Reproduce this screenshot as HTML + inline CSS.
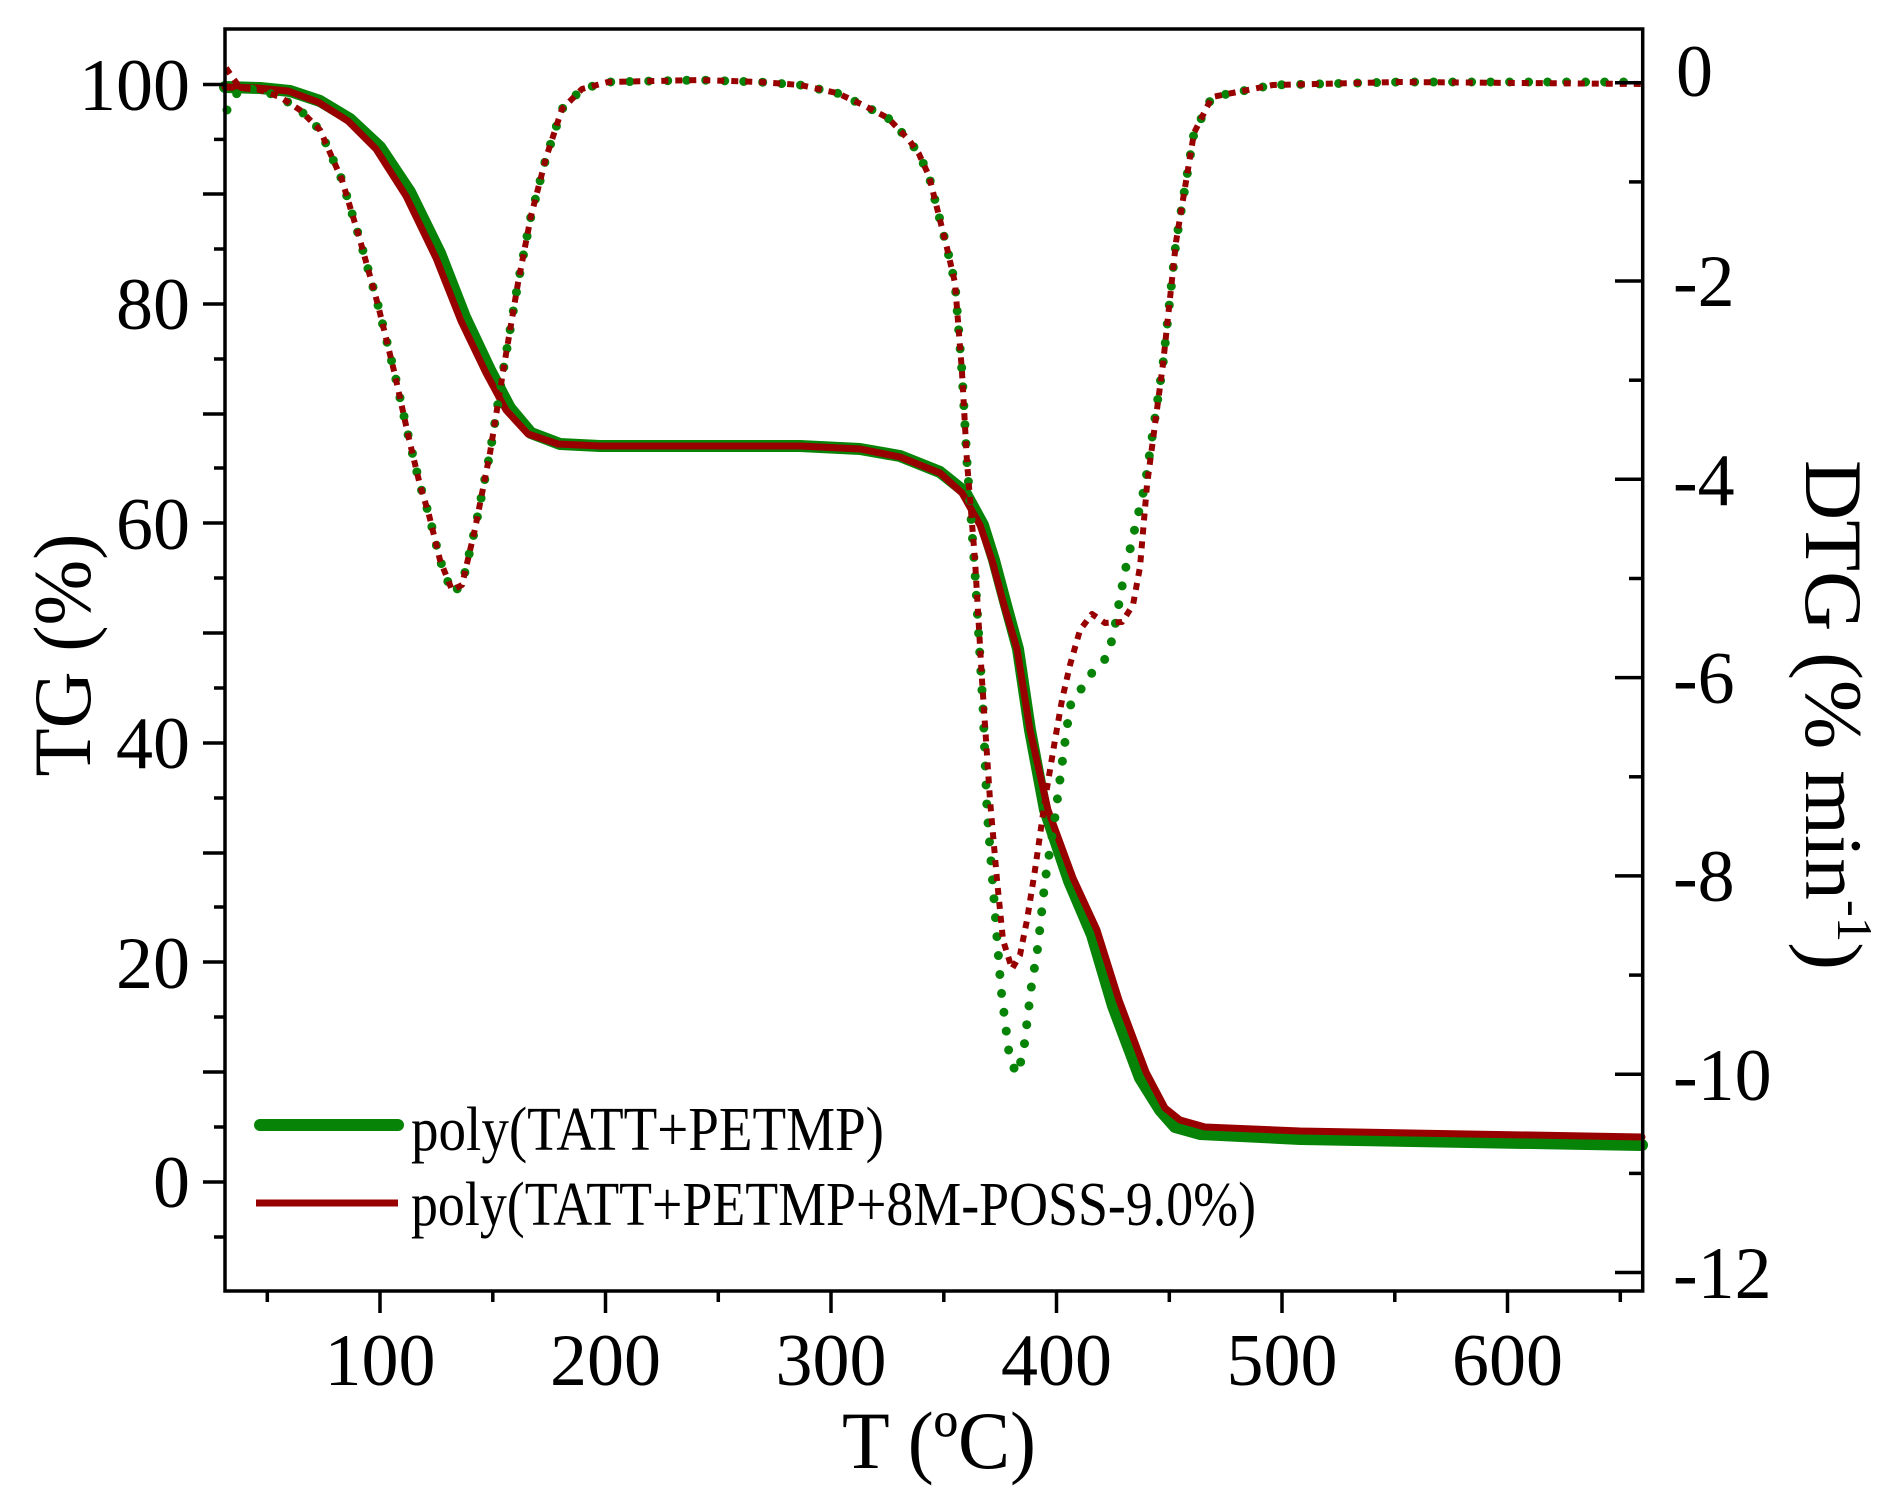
<!DOCTYPE html>
<html><head><meta charset="utf-8"><style>
html,body{margin:0;padding:0;background:#fff;}
svg{display:block;font-family:"Liberation Serif",serif;}
</style></head><body>
<svg width="1890" height="1510" viewBox="0 0 1890 1510" xmlns="http://www.w3.org/2000/svg">
<rect width="1890" height="1510" fill="#fff"/>
<!-- TG curves -->
<polyline fill="none" stroke="#078307" stroke-width="12" stroke-linejoin="round" stroke-linecap="round"
 points="225,87 260,88 290,91 320,101 350,119 380,147 410,192 440,253 465,317 490,370 510,408 531,433 560,444 600,446 800,446 860,449 900,456 940,472 965,492 983,525 994,560 1006,605 1018,649 1030,730 1045,810 1069,881 1092,935 1113,1006 1140,1078 1160,1110 1175,1127 1200,1134 1300,1139 1642,1145"/>
<polyline fill="none" stroke="#980000" stroke-width="7" stroke-linejoin="round" stroke-linecap="round"
 points="225,87 258,88 288,91 318,102 348,121 376,149 406,196 436,258 461,321 486,373 506,410 528,434 558,444 600,446 800,446 860,449 900,457 940,473 962,493 980,525 992,560 1004,605 1017,649 1030,730 1048,810 1073,878 1097,930 1119,1000 1146,1072 1165,1108 1180,1120 1205,1127 1300,1131 1642,1137"/>
<!-- DTG green dotted -->
<polyline fill="none" stroke="#078307" stroke-width="9" stroke-linecap="round" stroke-dasharray="0 19" stroke-linejoin="round"
 points="227,110 240,88 260,90 280,97 300,110 320,130 342,180 360,240 378,305 395,375 409,439 420,485 429,515 440,560 452,593 462,585 475,529 490,453 503,372 518,283 531,216 546,158 562,109 582,89 608,82 700,80 760,82 800,85 837,93 863,105 888,118 909,140 919,154 929,176 939,216 947,248 955,283 962,372 967,462 975,573 983,707 987,810 994,899 1001,989 1009,1053 1016,1074 1023,1056 1031,989 1038,946 1045,881 1055,817 1064,749 1070,706 1091,674 1106,658 1113,637 1121,592 1125,571 1145,485 1163,364 1176,242 1194,133 1212,97 1273,85 1400,82 1642,82"/>
<!-- DTG red dashed -->
<polyline fill="none" stroke="#980000" stroke-width="6" stroke-dasharray="7 7" stroke-linejoin="round"
 points="226,68 240,88 260,90 280,97 300,110 320,130 342,180 360,240 378,305 395,375 409,439 420,485 429,515 440,560 452,590 462,585 475,529 490,453 503,372 518,283 531,216 546,158 562,109 582,89 608,82 700,80 760,82 800,85 837,93 863,105 888,118 909,140 919,154 929,176 939,216 947,248 955,283 962,372 967,462 975,560 982,680 990,800 997,880 1003,940 1012,969 1020,955 1027,920 1035,870 1045,800 1055,740 1062,700 1070,665 1080,630 1092,614 1105,623 1122,622 1133,605 1140,567 1147,485 1163,364 1176,242 1194,133 1212,97 1273,85 1400,82 1642,84"/>
<!-- axes frame -->
<rect x="225" y="29" width="1417.7" height="1262" fill="none" stroke="#000" stroke-width="3.5"/>
<g stroke="#000" stroke-width="3.5">
<line x1="203" y1="84.5" x2="225" y2="84.5"/><line x1="214" y1="139.4" x2="225" y2="139.4"/>
<line x1="203" y1="194" x2="225" y2="194"/><line x1="214" y1="249" x2="225" y2="249"/>
<line x1="203" y1="304" x2="225" y2="304"/><line x1="214" y1="359" x2="225" y2="359"/>
<line x1="203" y1="414" x2="225" y2="414"/><line x1="214" y1="468" x2="225" y2="468"/>
<line x1="203" y1="523" x2="225" y2="523"/><line x1="214" y1="578" x2="225" y2="578"/>
<line x1="203" y1="633" x2="225" y2="633"/><line x1="214" y1="688" x2="225" y2="688"/>
<line x1="203" y1="743" x2="225" y2="743"/><line x1="214" y1="798" x2="225" y2="798"/>
<line x1="203" y1="853" x2="225" y2="853"/><line x1="214" y1="907" x2="225" y2="907"/>
<line x1="203" y1="962" x2="225" y2="962"/><line x1="214" y1="1017" x2="225" y2="1017"/>
<line x1="203" y1="1072" x2="225" y2="1072"/><line x1="214" y1="1127" x2="225" y2="1127"/>
<line x1="203" y1="1182" x2="225" y2="1182"/><line x1="214" y1="1237" x2="225" y2="1237"/>
</g>
<g stroke="#000" stroke-width="3.5">
<line x1="267.3" y1="1291" x2="267.3" y2="1302"/><line x1="380" y1="1291" x2="380" y2="1313"/>
<line x1="492.8" y1="1291" x2="492.8" y2="1302"/><line x1="605.5" y1="1291" x2="605.5" y2="1313"/>
<line x1="718.3" y1="1291" x2="718.3" y2="1302"/><line x1="831" y1="1291" x2="831" y2="1313"/>
<line x1="943.8" y1="1291" x2="943.8" y2="1302"/><line x1="1056.5" y1="1291" x2="1056.5" y2="1313"/>
<line x1="1169.3" y1="1291" x2="1169.3" y2="1302"/><line x1="1282" y1="1291" x2="1282" y2="1313"/>
<line x1="1394.8" y1="1291" x2="1394.8" y2="1302"/><line x1="1507.5" y1="1291" x2="1507.5" y2="1313"/>
<line x1="1620.3" y1="1291" x2="1620.3" y2="1302"/>
</g>
<g stroke="#000" stroke-width="3.5">
<line x1="1615" y1="82.7" x2="1642" y2="82.7"/><line x1="1629" y1="181.9" x2="1642" y2="181.9"/>
<line x1="1615" y1="281" x2="1642" y2="281"/><line x1="1629" y1="380.2" x2="1642" y2="380.2"/>
<line x1="1615" y1="479.3" x2="1642" y2="479.3"/><line x1="1629" y1="578.5" x2="1642" y2="578.5"/>
<line x1="1615" y1="677.6" x2="1642" y2="677.6"/><line x1="1629" y1="776.8" x2="1642" y2="776.8"/>
<line x1="1615" y1="875.9" x2="1642" y2="875.9"/><line x1="1629" y1="975.1" x2="1642" y2="975.1"/>
<line x1="1615" y1="1074.2" x2="1642" y2="1074.2"/><line x1="1629" y1="1173.4" x2="1642" y2="1173.4"/>
<line x1="1615" y1="1272.5" x2="1642" y2="1272.5"/>
</g>
<g font-size="74" text-anchor="end" fill="#000">
<text x="190" y="110">100</text>
<text x="190" y="329">80</text>
<text x="190" y="549">60</text>
<text x="190" y="768">40</text>
<text x="190" y="988">20</text>
<text x="190" y="1207">0</text>
</g>
<g font-size="74" text-anchor="middle" fill="#000">
<text x="380" y="1385">100</text>
<text x="605.5" y="1385">200</text>
<text x="831" y="1385">300</text>
<text x="1056.5" y="1385">400</text>
<text x="1282" y="1385">500</text>
<text x="1507.5" y="1385">600</text>
</g>
<g font-size="74" fill="#000">
<text x="1676" y="96">0</text>
<text x="1673" y="306">-2</text>
<text x="1673" y="505">-4</text>
<text x="1673" y="703">-6</text>
<text x="1673" y="901">-8</text>
<text x="1673" y="1100">-10</text>
<text x="1673" y="1298">-12</text>
</g>
<text x="939" y="1468" font-size="82" text-anchor="middle" textLength="194" lengthAdjust="spacingAndGlyphs">T (ºC)</text>
<text transform="translate(90,655) rotate(-90)" font-size="82" text-anchor="middle" textLength="243" lengthAdjust="spacingAndGlyphs">TG (%)</text>
<text transform="translate(1806,715) rotate(90)" font-size="82" text-anchor="middle" textLength="510" lengthAdjust="spacingAndGlyphs">DTG (% min<tspan font-size="50" dy="-32">-1</tspan><tspan dy="32">)</tspan></text>
<line x1="260" y1="1125" x2="398" y2="1125" stroke="#078307" stroke-width="12" stroke-linecap="round"/>
<line x1="256" y1="1203" x2="398" y2="1203" stroke="#980000" stroke-width="7"/>
<text x="411" y="1150" font-size="62" textLength="473" lengthAdjust="spacingAndGlyphs">poly(TATT+PETMP)</text>
<text x="411" y="1225" font-size="62" textLength="845" lengthAdjust="spacingAndGlyphs">poly(TATT+PETMP+8M-POSS-9.0%)</text>
</svg>
</body></html>
